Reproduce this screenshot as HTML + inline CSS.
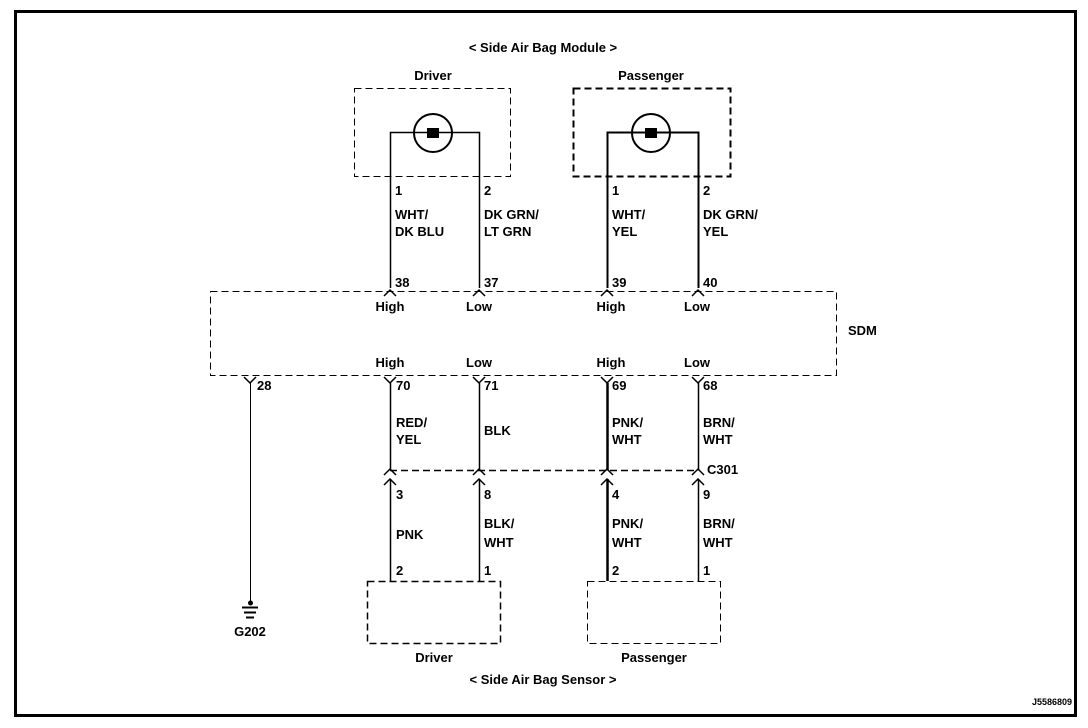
<!DOCTYPE html>
<html><head><style>
html,body{margin:0;padding:0;background:#fff;}
svg{display:block;}
text{font-family:"Liberation Sans",sans-serif;font-weight:bold;font-size:13px;fill:#000;}
</style></head><body>
<svg width="1088" height="728" viewBox="0 0 1088 728">
<rect x="15.5" y="11.5" width="1060" height="704" fill="none" stroke="#000" stroke-width="3"/>
<text x="543" y="52" text-anchor="middle">&lt; Side Air Bag Module &gt;</text>
<text x="433" y="80" text-anchor="middle">Driver</text>
<text x="651" y="80" text-anchor="middle">Passenger</text>
<g fill="none" stroke="#000">
<rect x="354.5" y="88.5" width="156" height="88" stroke-dasharray="7,4" stroke-width="1"/>
<rect x="573.5" y="88.5" width="157" height="88" stroke-dasharray="7,4" stroke-width="2"/>
<circle cx="433" cy="133" r="19" stroke-width="2"/>
<circle cx="651" cy="133" r="19" stroke-width="2"/>
<path d="M390.5 288V132.5H479.5V288" stroke-width="1.5"/>
<path d="M607.5 288V132.5H698.5V288" stroke-width="2"/>
<rect x="210.5" y="291.5" width="626" height="84" stroke-dasharray="7,4" stroke-width="1"/>
<path d="M384 296l6-6 6 6M473 296l6-6 6 6M601 296l6-6 6 6M692 296l6-6 6 6" stroke-width="1.5"/>
<path d="M244 377l6 6 6-6M384 377l6 6 6-6M473 377l6 6 6-6M601 377l6 6 6-6M692 377l6 6 6-6" stroke-width="1.5"/>
<path d="M250.5 383V603" stroke-width="1"/>
<path d="M390.5 383V470M479.5 383V470M698.5 383V470" stroke-width="1.5"/>
<path d="M607.5 383V470" stroke-width="2.5"/>
<path d="M390 470.5H698" stroke-dasharray="7,4" stroke-width="1.5"/>
<path d="M384 475l6-6 6 6M473 475l6-6 6 6M601 475l6-6 6 6M692 475l6-6 6 6" stroke-width="1.5"/>
<path d="M384 485l6-6 6 6M473 485l6-6 6 6M601 485l6-6 6 6M692 485l6-6 6 6" stroke-width="1.5"/>
<path d="M390.5 479V581M479.5 479V581M698.5 479V581" stroke-width="1.5"/>
<path d="M607.5 479V581" stroke-width="2.5"/>
<rect x="367.5" y="581.5" width="133" height="62" stroke-dasharray="7,4" stroke-width="1.5"/>
<rect x="587.5" y="581.5" width="133" height="62" stroke-dasharray="7,4" stroke-width="1"/>
<path d="M242 607.5h16M244 612.5h12M246 617.5h8" stroke-width="2"/>
</g>
<rect x="427" y="128" width="12" height="10" fill="#000"/>
<rect x="645" y="128" width="12" height="10" fill="#000"/>
<circle cx="250.5" cy="603" r="2.5" fill="#000"/>
<text x="395" y="195">1</text><text x="484" y="195">2</text>
<text x="612" y="195">1</text><text x="703" y="195">2</text>
<text x="395" y="219">WHT/</text><text x="395" y="236">DK BLU</text>
<text x="484" y="219">DK GRN/</text><text x="484" y="236">LT GRN</text>
<text x="612" y="219">WHT/</text><text x="612" y="236">YEL</text>
<text x="703" y="219">DK GRN/</text><text x="703" y="236">YEL</text>
<text x="395" y="287">38</text><text x="484" y="287">37</text>
<text x="612" y="287">39</text><text x="703" y="287">40</text>
<text x="390" y="311" text-anchor="middle">High</text><text x="479" y="311" text-anchor="middle">Low</text>
<text x="611" y="311" text-anchor="middle">High</text><text x="697" y="311" text-anchor="middle">Low</text>
<text x="848" y="335">SDM</text>
<text x="390" y="367" text-anchor="middle">High</text><text x="479" y="367" text-anchor="middle">Low</text>
<text x="611" y="367" text-anchor="middle">High</text><text x="697" y="367" text-anchor="middle">Low</text>
<text x="257" y="390">28</text><text x="396" y="390">70</text><text x="484" y="390">71</text>
<text x="612" y="390">69</text><text x="703" y="390">68</text>
<text x="396" y="427">RED/</text><text x="396" y="444">YEL</text>
<text x="484" y="435">BLK</text>
<text x="612" y="427">PNK/</text><text x="612" y="444">WHT</text>
<text x="703" y="427">BRN/</text><text x="703" y="444">WHT</text>
<text x="707" y="474">C301</text>
<text x="396" y="499">3</text><text x="484" y="499">8</text><text x="612" y="499">4</text><text x="703" y="499">9</text>
<text x="396" y="539">PNK</text>
<text x="484" y="528">BLK/</text><text x="484" y="547">WHT</text>
<text x="612" y="528">PNK/</text><text x="612" y="547">WHT</text>
<text x="703" y="528">BRN/</text><text x="703" y="547">WHT</text>
<text x="396" y="575">2</text><text x="484" y="575">1</text><text x="612" y="575">2</text><text x="703" y="575">1</text>
<text x="250" y="636" text-anchor="middle">G202</text>
<text x="434" y="662" text-anchor="middle">Driver</text>
<text x="654" y="662" text-anchor="middle">Passenger</text>
<text x="543" y="684" text-anchor="middle">&lt; Side Air Bag Sensor &gt;</text>
<text x="1052" y="705" text-anchor="middle" style="font-size:9px">J5586809</text>
</svg>
</body></html>
